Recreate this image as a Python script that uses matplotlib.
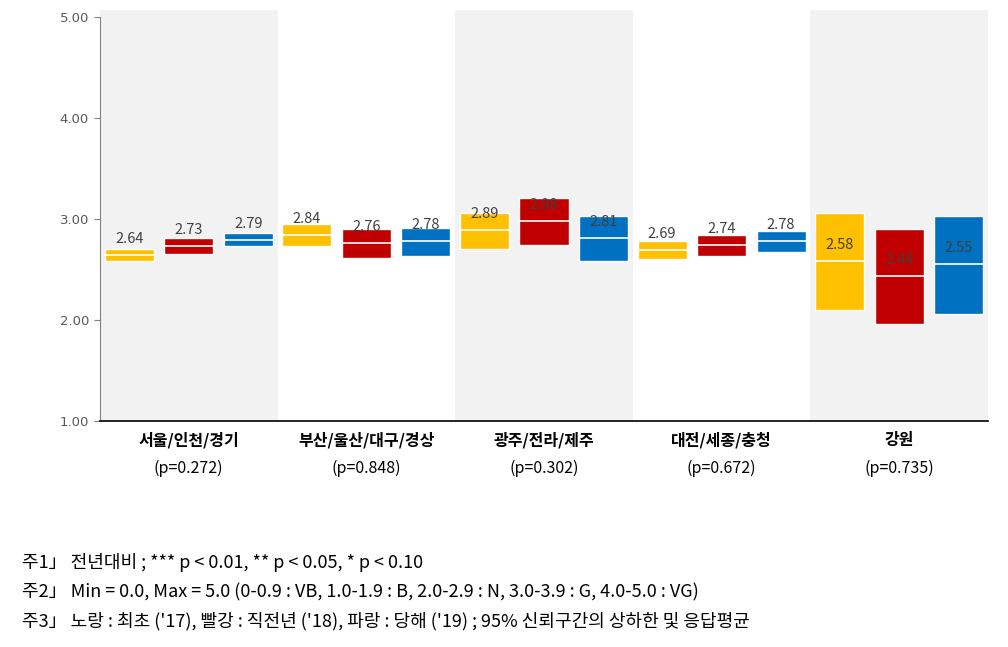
import matplotlib
matplotlib.use("Agg")
import matplotlib.pyplot as plt
import numpy as np

groups = ['서울/인천/경기', '부산/울산/대구/경상', '광주/전라/제주', '대전/세종/충청', '강원']
pvals = ['0.272', '0.848', '0.302', '0.672', '0.735']

mean_17 = [2.64, 2.84, 2.89, 2.69, 2.58]
low_17 = [2.58, 2.73, 2.70, 2.60, 2.10]
high_17 = [2.70, 2.95, 3.06, 2.78, 3.06]

mean_18 = [2.73, 2.76, 2.98, 2.74, 2.44]
low_18 = [2.65, 2.61, 2.74, 2.63, 1.96]
high_18 = [2.81, 2.90, 3.21, 2.84, 2.90]

mean_19 = [2.79, 2.78, 2.81, 2.78, 2.55]
low_19 = [2.73, 2.63, 2.58, 2.67, 2.06]
high_19 = [2.86, 2.91, 3.03, 2.88, 3.03]

yticks = [1.0, 2.0, 3.0, 4.0, 5.0]
notes = [
    '주1」 전년대비 ; *** p < 0.01, ** p < 0.05, * p < 0.10',
    '주2」 Min = 0.0, Max = 5.0 (0-0.9 : VB, 1.0-1.9 : B, 2.0-2.9 : N, 3.0-3.9 : G, 4.0-5.0 : VG)',
    '주3」 노랑 : 최초 (\'17), 빨강 : 직전년 (\'18), 파랑 : 당해 (\'19) ; 95% 신뢰구간의 상하한 및 응답평균',
]

colors = ['#FFC000', '#C00000', '#0070C0']
series = [(mean_17, low_17, high_17), (mean_18, low_18, high_18), (mean_19, low_19, high_19)]

plt.rcParams['font.family'] = ['Noto Sans CJK KR', 'DejaVu Sans']

fig = plt.figure(figsize=(10.08, 6.47), dpi=100)
ax = fig.add_axes([100/1008, (647-421)/647, 888/1008, 404/647])
ax.set_xlim(0, 5)
ax.set_ylim(1, 5)

# grey bands
for i in range(len(groups)):
    if i % 2 == 0:
        ax.fill_between([i, i + 1], 1, 5.07, color='#F2F2F2', lw=0, zorder=0, clip_on=False)

offsets = [-0.335, 0.0, 0.335]
width = 0.276
for s, (m, lo, hi) in enumerate(series):
    for i in range(len(groups)):
        x = i + 0.5 + offsets[s]
        ax.bar(x, hi[i] - lo[i], bottom=lo[i], width=width, color=colors[s],
               edgecolor='white', linewidth=1.0, zorder=2)
        ax.plot([x - width/2, x + width/2], [m[i], m[i]], color='white', lw=1.2, zorder=3)
        ax.annotate(f'{m[i]:.2f}', (x, m[i]), xytext=(0, 11.5), textcoords='offset points',
                    ha='center', va='center', fontsize=10.5, color='#404040', zorder=4)

ax.set_yticks(yticks)
ax.set_yticklabels([f'{v:.2f}' for v in yticks], fontsize=9.5, color='#595959',
                   family=['DejaVu Sans'])
ax.tick_params(axis='y', length=4, color='#808080', pad=4)
ax.set_xticks([])
for side in ['top', 'right']:
    ax.spines[side].set_visible(False)
ax.spines['left'].set_color('#808080')
ax.spines['bottom'].set_color('#000000')
ax.spines['bottom'].set_linewidth(1.2)

for i, (g, p) in enumerate(zip(groups, pvals)):
    xf = (100 + (i + 0.5) * 888 / 5) / 1008
    fig.text(xf, 1 - 440/647, g, ha='center', va='center', fontsize=11.5, fontweight='bold', color='#000000')
    fig.text(xf, 1 - 468/647, f'(p={p})', ha='center', va='center', fontsize=11.5, color='#000000')

for k, n in enumerate(notes):
    fig.text(22/1008, 1 - (563 + 29*k)/647, n, ha='left', va='center', fontsize=13, color='#000000')

fig.savefig('out.png', dpi=100)
